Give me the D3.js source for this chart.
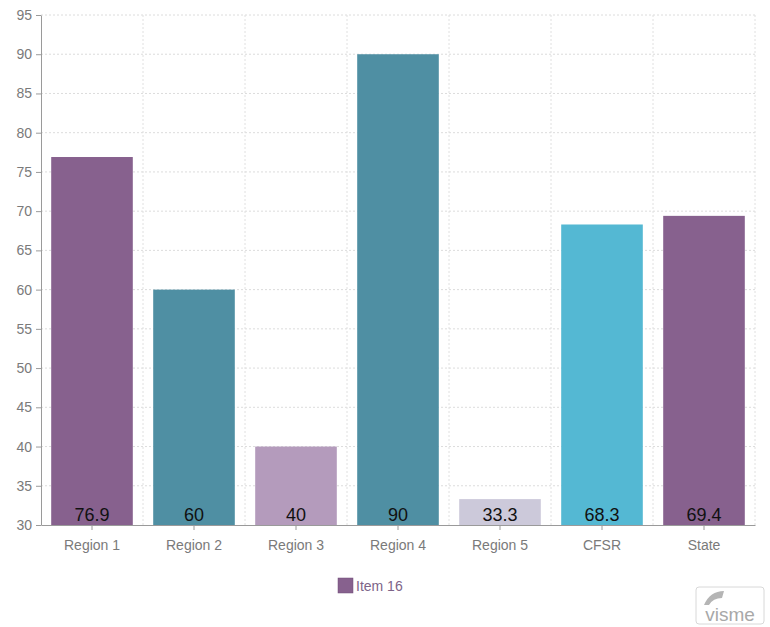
<!DOCTYPE html>
<html><head><meta charset="utf-8">
<script src="https://cdn.jsdelivr.net/npm/d3@7/dist/d3.min.js"></script>
<style>body{margin:0;background:#fff}svg{display:block}</style>
</head><body>
<svg id="c" width="770" height="627"></svg>
<script>
const categories = ["Region 1","Region 2","Region 3","Region 4","Region 5","CFSR","State"];
const values = [76.9, 60, 40, 90, 33.3, 68.3, 69.4];
const barColors = ["#87618e","#4f8fa3","#b49bbc","#4f8fa3","#ccc9da","#54b8d3","#87618e"];
const yTicks = [30,35,40,45,50,55,60,65,70,75,80,85,90,95];
const legendLabel = "Item 16";

const svg = d3.select("#c");
const pL = 41, pR = 755, pT = 15, pB = 525;
const x = d3.scaleBand().domain(categories).range([pL, pR]).paddingInner(0.2).paddingOuter(0.1);
const y = d3.scaleLinear().domain([30, 95]).range([pB, pT]);

// grid
const g = svg.append("g");
g.selectAll("line.h").data(yTicks.slice(1)).enter().append("line")
  .attr("x1", pL).attr("x2", pR).attr("y1", d => y(d)).attr("y2", d => y(d))
  .attr("stroke", "#dcdcdc").attr("stroke-dasharray", "2,2");
const step = x.step();
g.selectAll("line.v").data(d3.range(1, categories.length + 1)).enter().append("line")
  .attr("x1", d => pL + d * step).attr("x2", d => pL + d * step)
  .attr("y1", pT).attr("y2", pB)
  .attr("stroke", "#e0e0e0").attr("stroke-dasharray", "2,2");

// bars
svg.selectAll("rect.bar").data(values).enter().append("rect")
  .attr("x", (d, i) => x(categories[i]))
  .attr("width", x.bandwidth())
  .attr("y", d => y(d))
  .attr("height", d => pB - y(d))
  .attr("fill", (d, i) => barColors[i]);

// value labels
svg.selectAll("text.val").data(values).enter().append("text")
  .attr("x", (d, i) => x(categories[i]) + x.bandwidth() / 2)
  .attr("y", pB - 4)
  .attr("text-anchor", "middle")
  .attr("font-family", "Arial, Liberation Sans, sans-serif")
  .attr("font-size", 18).attr("fill", "#111")
  .text(d => d);

// axes
const yAxis = svg.append("g").attr("transform", `translate(${pL},0)`)
  .call(d3.axisLeft(y).tickValues(yTicks).tickSize(5).tickSizeOuter(0));
const xAxis = svg.append("g").attr("transform", `translate(0,${pB})`)
  .call(d3.axisBottom(x).tickSize(5).tickSizeOuter(0));
[yAxis, xAxis].forEach(a => {
  a.selectAll("path,line").attr("stroke", "#9a9a9a");
  a.selectAll("text").attr("fill", "#7a7a7a").attr("font-size", 14)
    .attr("font-family", "Arial, Liberation Sans, sans-serif");
});
yAxis.selectAll("text").attr("dx", "-1");
xAxis.selectAll("text").attr("dy", "1.2em");

// legend
svg.append("rect").attr("x", 338).attr("y", 578).attr("width", 15).attr("height", 15)
  .attr("fill", barColors[0]).attr("stroke", "#6f4d77").attr("stroke-width", 0.5);
svg.append("text").attr("x", 356).attr("y", 591)
  .attr("font-family", "Arial, Liberation Sans, sans-serif").attr("font-size", 14)
  .attr("fill", "#7d6488").text(legendLabel);

// logo
svg.append("rect").attr("x", 696).attr("y", 587).attr("width", 68).attr("height", 37).attr("rx", 3)
  .attr("fill", "#fff").attr("stroke", "#d8d8d8");
svg.append("path").attr("d", "M704,605 Q710,591 724,591 L722,598 Q713,598 709,605 Z").attr("fill", "#b5b5b5");
svg.append("text").attr("x", 730).attr("y", 621).attr("text-anchor", "middle")
  .attr("font-family", "Arial, Liberation Sans, sans-serif").attr("font-size", 19)
  .attr("fill", "#a8a8a8").text("visme");
</script>
</body></html>
